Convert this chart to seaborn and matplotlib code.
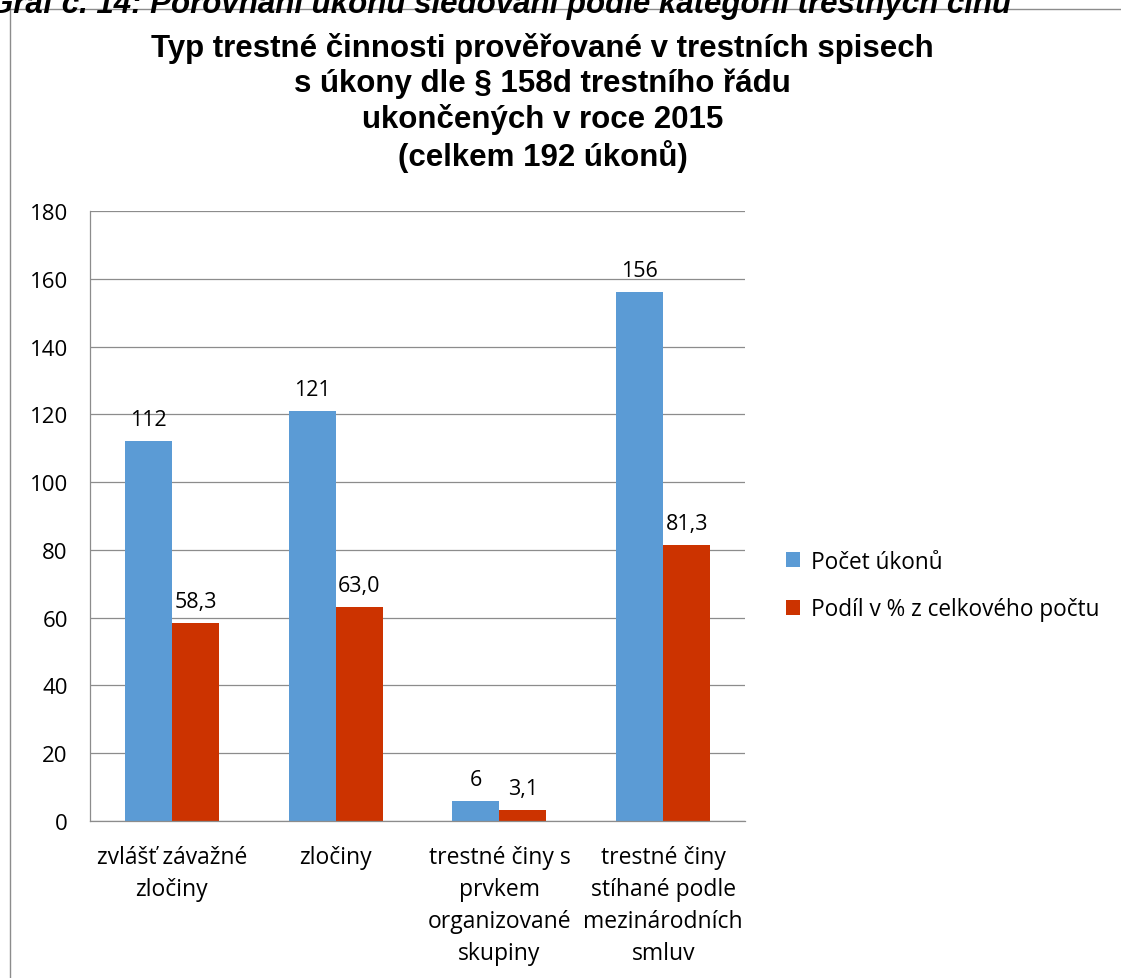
import pandas as pd
import matplotlib.pyplot as plt
import matplotlib.patches as mpatches
import seaborn as sb

# data
categories = ["zvlášť závažné\nzločiny", "zločiny",
              "trestné činy s\nprvkem\norganizované\nskupiny",
              "trestné činy\nstíhané podle\nmezinárodních\nsmluv"]
series_names = ["Počet úkonů", "Podíl v % z celkového počtu"]
pocet_ukonu = [112, 121, 6, 156]
podil_pct = [58.3, 63.0, 3.1, 81.3]
y_ticks = [0, 20, 40, 60, 80, 100, 120, 140, 160, 180]

df = pd.DataFrame({
    "kategorie": categories * 2,
    "serie": [series_names[0]] * 4 + [series_names[1]] * 4,
    "hodnota": pocet_ukonu + podil_pct,
})

sb.set_style("white")
plt.rcParams['font.family'] = ['Open Sans', 'DejaVu Sans']
plt.rcParams['text.color'] = 'black'

fig = plt.figure(figsize=(11.21, 9.79), dpi=100)
ax = fig.add_axes([0.0803, 0.1604, 0.5843, 0.6231])

colors = ["#5B9BD5", "#CC3300"]
sb.barplot(data=df, x="kategorie", y="hodnota", hue="serie", palette=colors,
           width=0.575, gap=0, saturation=1, ax=ax, edgecolor="none")

# value labels (Czech decimal comma for percentages)
for cont, fmt in zip(ax.containers, ["int", "pct"]):
    if fmt == "int":
        labels = [str(int(v)) for v in pocet_ukonu]
    else:
        labels = [("%.1f" % v).replace(".", ",") for v in podil_pct]
    ax.bar_label(cont, labels=labels, padding=8, fontsize=15.5, color="black")

ax.set_ylim(0, 180)
ax.set_xlim(-0.5, 3.5)
ax.set_yticks(y_ticks)
ax.yaxis.grid(True, color="#8c8c8c", linewidth=0.9)
ax.set_axisbelow(True)
ax.set_xlabel("")
ax.set_ylabel("")

# ticks between the categories, labels under the centers
ax.set_xticks([-0.5, 0.5, 1.5, 2.5, 3.5], minor=False)
ax.set_xticklabels([])
ax.set_xticks([0, 1, 2, 3], minor=True)
ax.set_xticklabels(categories, minor=True, fontsize=16.5, linespacing=1.45)
ax.tick_params(axis="x", which="major", length=8, color="#8c8c8c", direction="out")
ax.tick_params(axis="x", which="minor", length=0, pad=17, labelcolor="black")
ax.tick_params(axis="y", length=7, color="#8c8c8c", labelsize=16, pad=9,
               labelcolor="black")

for s in ["top", "right"]:
    ax.spines[s].set_visible(False)
for s in ["left", "bottom"]:
    ax.spines[s].set_color("#8c8c8c")
    ax.spines[s].set_linewidth(0.9)

handles, labels = ax.get_legend_handles_labels()
ax.get_legend().remove()
fig.legend(handles, labels, loc="center left", bbox_to_anchor=(0.683, 0.401),
           frameon=False, fontsize=16.3, handlelength=0.6, handleheight=0.6,
           handletextpad=0.5, labelspacing=1.05)

fig.text(0.484, 0.823,
         "Typ trestné činnosti prověřované v trestních spisech\n"
         "s úkony dle § 158d trestního řádu\n"
         "ukončených v roce 2015\n"
         "(celkem 192 úkonů)",
         ha="center", va="bottom", fontsize=22.5, fontweight="bold",
         family="Liberation Sans", linespacing=1.2)

# chart area border and the cut-off caption above it
fig.patches.append(mpatches.Rectangle((10 / 1121, -0.05), 1.1, 1.05 - 10 / 979,
                                      transform=fig.transFigure, fill=False,
                                      edgecolor="#8c8c8c", linewidth=1))
fig.text(-0.01, 0.9867, "Graf č. 14: Porovnání úkonů sledování podle kategorií trestných činů",
         ha="left", va="baseline", fontsize=22.5, fontweight="bold", style="italic",
         family="Liberation Sans")

fig.savefig("out.png", dpi=100)
